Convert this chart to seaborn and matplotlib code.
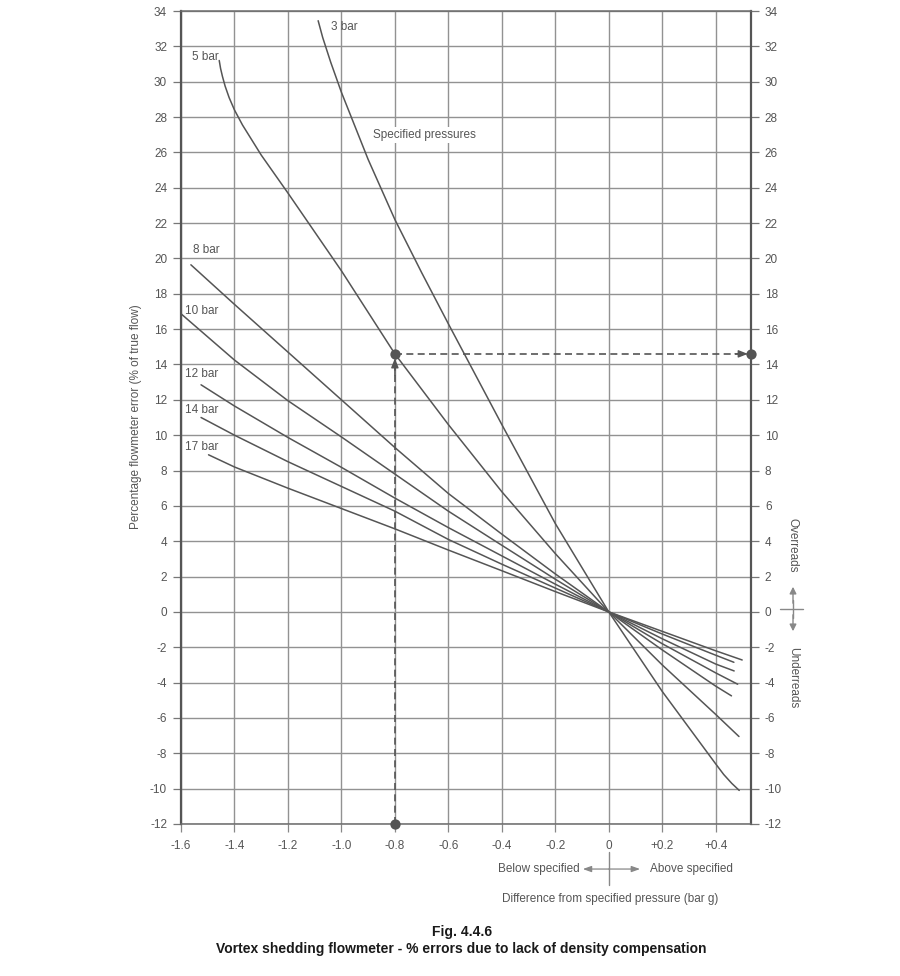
import numpy as np
import pandas as pd
import matplotlib
matplotlib.use("Agg")
import matplotlib.pyplot as plt
import seaborn as sns
from matplotlib.transforms import blended_transform_factory

# ---------------- data ----------------
series_names = ["3 bar", "5 bar", "8 bar", "10 bar", "12 bar", "14 bar", "17 bar"]

x_3bar = [-1.087, -1.07, -1.04, -1.0, -0.9, -0.8, -0.7, -0.6, -0.4, -0.2, 0.0, 0.2, 0.4, 0.43, 0.46, 0.488]
y_3bar = [33.45, 32.5, 31.1, 29.4, 25.6, 22.2, 19.2, 16.3, 10.6, 5.0, 0.0, -4.5, -8.6, -9.2, -9.7, -10.1]

x_5bar = [-1.457, -1.452, -1.445, -1.435, -1.42, -1.4, -1.37, -1.3, -1.2, -1.1, -1.0, -0.9, -0.8, -0.6, -0.4, -0.2, 0.0, 0.2, 0.4, 0.487]
y_5bar = [31.2, 30.75, 30.3, 29.75, 29.1, 28.4, 27.55, 25.85, 23.7, 21.5, 19.3, 16.95, 14.6, 10.6, 6.8, 3.3, 0.0, -3.0, -5.8, -7.05]

x_8bar = [-1.563, -1.4, -1.2, -1.0, -0.8, -0.6, -0.4, -0.2, 0.0, 0.2, 0.4, 0.459]
y_8bar = [19.64, 17.4, 14.7, 12.0, 9.3, 6.7, 4.4, 2.15, 0.0, -2.15, -4.2, -4.75]

x_10bar = [-1.6, -1.4, -1.2, -1.0, -0.8, -0.6, -0.4, -0.2, 0.0, 0.2, 0.4, 0.482]
y_10bar = [16.87, 14.25, 11.95, 9.9, 7.8, 5.7, 3.77, 1.85, 0.0, -1.8, -3.45, -4.09]

x_12bar = [-1.525, -1.4, -1.2, -1.0, -0.8, -0.6, -0.4, -0.2, 0.0, 0.2, 0.4, 0.469]
y_12bar = [12.85, 11.65, 9.87, 8.18, 6.44, 4.77, 3.17, 1.57, 0.0, -1.52, -2.95, -3.34]

x_14bar = [-1.525, -1.4, -1.2, -1.0, -0.8, -0.6, -0.4, -0.2, 0.0, 0.2, 0.4, 0.468]
y_14bar = [11.0, 10.0, 8.5, 7.1, 5.7, 4.1, 2.7, 1.35, 0.0, -1.25, -2.45, -2.85]

x_17bar = [-1.497, -1.4, -1.2, -1.0, -0.8, -0.6, -0.4, -0.2, 0.0, 0.2, 0.4, 0.499]
y_17bar = [8.89, 8.2, 7.0, 5.85, 4.7, 3.5, 2.33, 1.15, 0.0, -1.1, -2.2, -2.72]

# curve label anchor positions
label_x = [-1.040, -1.559, -1.555, -1.585, -1.585, -1.585, -1.585]
label_y = [33.1, 31.4, 20.45, 17.05, 13.45, 11.45, 9.35]

# worked example (5 bar, 0.8 bar below specified)
example_x = -0.8
example_y = 14.6

x_ticks = [-1.6, -1.4, -1.2, -1.0, -0.8, -0.6, -0.4, -0.2, 0.0, 0.2, 0.4]
x_tick_labels = ["-1.6", "-1.4", "-1.2", "-1.0", "-0.8", "-0.6", "-0.4", "-0.2", "0", "+0.2", "+0.4"]
y_ticks = list(range(-12, 35, 2))
x_min, x_max = -1.6, 0.532
y_min, y_max = -12, 34

# ---------------- build table ----------------
xs = [x_3bar, x_5bar, x_8bar, x_10bar, x_12bar, x_14bar, x_17bar]
ys = [y_3bar, y_5bar, y_8bar, y_10bar, y_12bar, y_14bar, y_17bar]
rows = []
for name, xx, yy in zip(series_names, xs, ys):
    for i, (a, b) in enumerate(zip(xx, yy)):
        rows.append({"series": name, "order": i, "diff": a, "err": b})
df = pd.DataFrame(rows)

# ---------------- style ----------------
sns.set_style("white")
plt.rcParams["font.family"] = ["Liberation Sans", "DejaVu Sans"]

TXT = "#555555"
LINE = "#555555"
GRID = "#929292"

fig = plt.figure(figsize=(9.0, 9.76), dpi=100)
ax = fig.add_axes([181 / 900, 152 / 976, 570 / 900, 813 / 976])

sns.lineplot(data=df, x="diff", y="err", hue="series", units="series",
             estimator=None, sort=False, palette=[LINE] * len(series_names),
             linewidth=1.1, legend=False, ax=ax)
for ln in ax.get_lines():
    ln.set_solid_joinstyle("round")

ax.set_xlim(x_min, x_max)
ax.set_ylim(y_min, y_max)
ax.set_xticks(x_ticks)
ax.set_xticklabels(x_tick_labels)
ax.set_yticks(y_ticks)
ax.set_yticklabels([str(v) for v in y_ticks])
ax.set_xlabel("")
ax.set_ylabel("")

ax.grid(True, color=GRID, linewidth=1.0)
ax.set_axisbelow(True)

for side in ["left", "right"]:
    ax.spines[side].set_color("#555555")
    ax.spines[side].set_linewidth(1.6)
for side in ["top", "bottom"]:
    ax.spines[side].set_color("#6a6a6a")
    ax.spines[side].set_linewidth(1.1)

ax.tick_params(axis="y", which="both", left=True, right=True,
               labelleft=True, labelright=True, direction="out",
               length=6, width=0.9, color="#777777", pad=4,
               labelsize=8.5, labelcolor=TXT)
ax.tick_params(axis="x", bottom=True, direction="out", length=5.5,
               width=0.9, color="#888888", pad=6, labelsize=8.5,
               labelcolor=TXT)

# curve labels
for name, lx, ly in zip(series_names, label_x, label_y):
    ax.text(lx, ly, name, fontsize=8.5, color=TXT, ha="left", va="center")
ax.text(-0.691, 27.0, "Specified pressures", fontsize=8.5, color=TXT,
        ha="center", va="center",
        bbox=dict(facecolor="white", edgecolor="none", pad=1.5))

# worked example: dashed lines with arrows and dots
dash = (0, (4.2, 2.6))
ax.plot([example_x, example_x], [y_min, example_y - 0.3], color=LINE,
        linewidth=1.2, linestyle=dash, clip_on=False, zorder=3)
ax.plot([example_x, x_max], [example_y, example_y], color=LINE,
        linewidth=1.2, linestyle=dash, clip_on=False, zorder=3)
ax.annotate("", xy=(example_x, example_y - 0.25), xytext=(example_x, example_y - 1.2),
            arrowprops=dict(arrowstyle="-|>,head_length=0.55,head_width=0.22",
                            color=LINE, lw=1.0, shrinkA=0, shrinkB=0), zorder=4)
ax.annotate("", xy=(x_max - 0.012, example_y), xytext=(x_max - 0.06, example_y),
            arrowprops=dict(arrowstyle="-|>,head_length=0.55,head_width=0.22",
                            color=LINE, lw=1.0, shrinkA=0, shrinkB=0), zorder=4)
dots = pd.DataFrame({"x": [example_x, example_x, x_max],
                     "y": [y_min, example_y, example_y]})
sns.scatterplot(data=dots, x="x", y="y", s=55, color=LINE, edgecolor=LINE,
                linewidth=0, ax=ax, clip_on=False, zorder=5, legend=False)
ax.set_xlabel("")
ax.set_ylabel("")

# below / above specified annotation
tr = blended_transform_factory(ax.transData, ax.transAxes)
yb = -0.0554
ax.plot([0, 0], [-0.034, -0.075], transform=tr, color="#888888",
        linewidth=1.0, clip_on=False)
ax.annotate("", xy=(-0.097, yb), xytext=(0, yb), xycoords=tr, textcoords=tr,
            arrowprops=dict(arrowstyle="-|>,head_length=0.5,head_width=0.18",
                            color="#888888", lw=0.9, shrinkA=0, shrinkB=0))
ax.annotate("", xy=(0.117, yb), xytext=(0, yb), xycoords=tr, textcoords=tr,
            arrowprops=dict(arrowstyle="-|>,head_length=0.5,head_width=0.18",
                            color="#888888", lw=0.9, shrinkA=0, shrinkB=0))
ax.text(-0.110, yb, "Below specified", transform=tr, fontsize=8.5,
        color=TXT, ha="right", va="center")
ax.text(0.155, yb, "Above specified", transform=tr, fontsize=8.5,
        color=TXT, ha="left", va="center")
ax.text(0.005, -0.0923, "Difference from specified pressure (bar g)",
        transform=tr, fontsize=8.5, color=TXT, ha="center", va="center")

# y label
fig.text(136 / 900, 1 - 417 / 976, "Percentage flowmeter error (% of true flow)",
         rotation=90, fontsize=8.5, color=TXT, ha="center", va="center")

# overreads / underreads
fig.text(793 / 900, 1 - 545 / 976, "Overreads", rotation=270, fontsize=8.5,
         color=TXT, ha="center", va="center")
fig.text(793 / 900, 1 - 678 / 976, "Underreads", rotation=270, fontsize=8.5,
         color=TXT, ha="center", va="center")
fig.add_artist(plt.Line2D([780 / 900, 803 / 900], [1 - 609 / 976, 1 - 609 / 976],
                          transform=fig.transFigure, color="#888888", lw=1.0))
fig.add_artist(plt.Line2D([793 / 900, 793 / 900], [1 - 600 / 976, 1 - 618 / 976],
                          transform=fig.transFigure, color="#888888", lw=1.0))
fig.patches.append(matplotlib.patches.FancyArrowPatch(
    (793 / 900, 1 - 606 / 976), (793 / 900, 1 - 584 / 976),
    transform=fig.transFigure, arrowstyle="-|>,head_length=4,head_width=2",
    color="#888888", lw=1.0, figure=fig))
fig.patches.append(matplotlib.patches.FancyArrowPatch(
    (793 / 900, 1 - 612 / 976), (793 / 900, 1 - 634 / 976),
    transform=fig.transFigure, arrowstyle="-|>,head_length=4,head_width=2",
    color="#888888", lw=1.0, figure=fig))

# title
fig.text(462 / 900, 1 - 932 / 976, "Fig. 4.4.6", fontsize=10, fontweight="bold",
         color="#1a1a1a", ha="center", va="center")
fig.text(461 / 900, 1 - 949 / 976,
         "Vortex shedding flowmeter - % errors due to lack of density compensation",
         fontsize=10, fontweight="bold", color="#1a1a1a", ha="center", va="center")

fig.savefig("out.png", dpi=100, facecolor="white")
